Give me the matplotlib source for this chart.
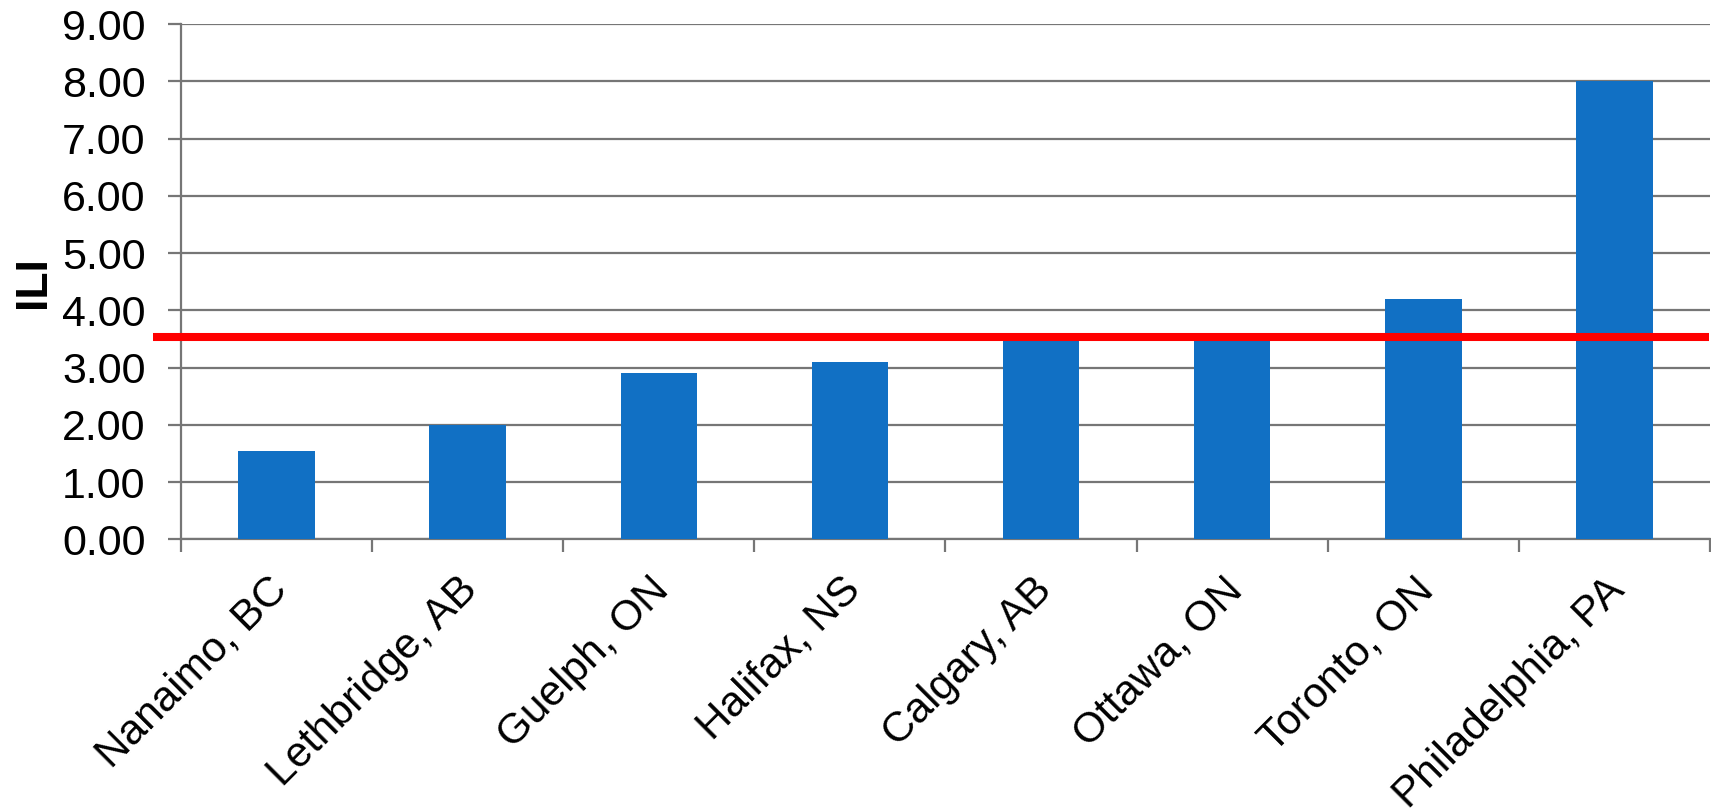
import matplotlib
matplotlib.use("Agg")
import matplotlib.pyplot as plt
from matplotlib.transforms import ScaledTranslation
import numpy as np

categories = ["Nanaimo, BC", "Lethbridge, AB", "Guelph, ON", "Halifax, NS",
              "Calgary, AB", "Ottawa, ON", "Toronto, ON", "Philadelphia, PA"]
values = [1.54, 2.00, 2.90, 3.10, 3.52, 3.50, 4.20, 8.00]
threshold = 3.54
y_ticks = [0, 1, 2, 3, 4, 5, 6, 7, 8, 9]

plt.rcParams['font.family'] = ['Liberation Sans', 'DejaVu Sans']

fig = plt.figure(figsize=(17.11, 8.09), dpi=100)
ax = fig.add_axes([0.1058, 0.3334, 0.8936, 0.6366])

x = np.arange(len(categories))
ax.bar(x, values, width=0.4, color='#1170C4', zorder=3)

grid_c = '#767676'
ax.set_ylim(0, 9)
ax.set_xlim(-0.5, len(categories) - 0.5)
ax.set_yticks(y_ticks)
ax.set_yticklabels([f"{v:.2f}" for v in y_ticks], fontsize=31)
ax.yaxis.grid(True, color=grid_c, linewidth=1.6, zorder=1)
ax.set_axisbelow(True)

ax.set_xticks(x)
ax.set_xticklabels(categories, fontsize=30.5, rotation=45, ha='right',
                   rotation_mode='anchor')
ax.tick_params(axis='x', which='major', length=0, pad=14)
ax.set_xticks(np.arange(-0.5, len(categories)), minor=True)
ax.tick_params(axis='x', which='minor', length=9.4, width=1.6, color=grid_c)
ax.tick_params(axis='y', length=9.4, width=1.6, color=grid_c, pad=16)

offset = ScaledTranslation(-10 / 100, -11 / 100, fig.dpi_scale_trans)
for lbl in ax.get_xticklabels():
    lbl.set_transform(lbl.get_transform() + offset)

for s in ['top', 'right']:
    ax.spines[s].set_visible(False)
for s in ['left', 'bottom']:
    ax.spines[s].set_color(grid_c)
    ax.spines[s].set_linewidth(1.6)

ax.plot([-0.647, len(categories) - 0.505], [threshold, threshold],
        color='#FF0000', linewidth=5.8, clip_on=False, zorder=5,
        solid_capstyle='butt')

ax.set_ylabel("ILI", fontsize=32, fontweight='bold', labelpad=6)

fig.savefig("out.png", dpi=100)
